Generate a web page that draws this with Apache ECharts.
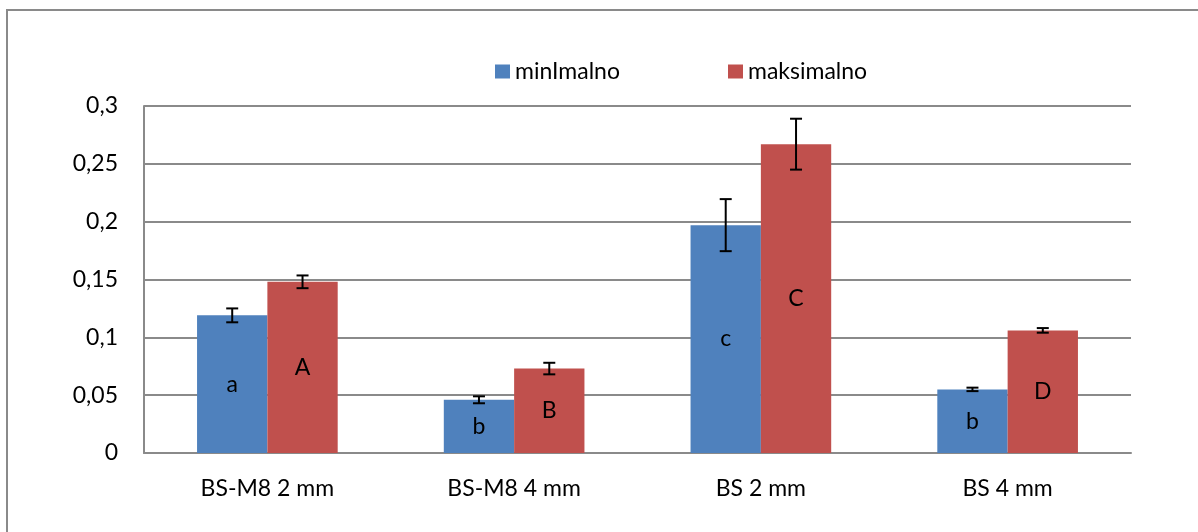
<!DOCTYPE html>
<html>
<head>
<meta charset="utf-8">
<script src="https://cdn.jsdelivr.net/npm/echarts@6/dist/echarts.min.js"></script>
<style>
  html, body { margin: 0; padding: 0; background: #fff; }
  #main { width: 1198px; height: 532px; }
</style>
</head>
<body>
<div id="main"></div>
<script>
// podaci
var categories = ['BS-M8 2 mm', 'BS-M8 4 mm', 'BS 2 mm', 'BS 4 mm']
var minValues = [0.119, 0.046, 0.197, 0.055]
var maxValues = [0.148, 0.073, 0.267, 0.106]
var minErr = [0.006, 0.003, 0.0225, 0.0015]
var maxErr = [0.0055, 0.005, 0.022, 0.002]
var minLetters = ['a', 'b', 'c', 'b']
var maxLetters = ['A', 'B', 'C', 'D']

var FONT = 'Lato'
var FS = 23
var CAT_GAP = 0.43

var chart = echarts.init(document.getElementById('main'))

function errData(values, errs) {
  return values.map(function (v, i) {
    return [i, v - errs[i], v + errs[i]]
  })
}

// offset: -1 za lijevi stupac, +1 za desni
function errRender(offset) {
  return function (params, api) {
    var i = api.value(0)
    var catW = api.size([1, 0])[0]
    var barW = catW * (1 - CAT_GAP) / 2
    var x = api.coord([i, 0])[0] + offset * barW / 2
    var lo = api.coord([i, api.value(1)])[1]
    var hi = api.coord([i, api.value(2)])[1]
    var cap = 6
    var style = { stroke: '#000', lineWidth: 2 }
    return {
      type: 'group',
      children: [
        { type: 'line', shape: { x1: x, y1: hi, x2: x, y2: lo }, style: style },
        { type: 'line', shape: { x1: x - cap, y1: hi, x2: x + cap, y2: hi }, style: style },
        { type: 'line', shape: { x1: x - cap, y1: lo, x2: x + cap, y2: lo }, style: style }
      ]
    }
  }
}

var labelStyle = {
  show: true,
  position: 'inside',
  color: '#000',
  fontFamily: FONT,
  fontSize: FS
}

var option = {
  animation: false,
  backgroundColor: '#fff',
  textStyle: { fontFamily: FONT },
  graphic: [
    {
      type: 'rect',
      shape: { x: 7, y: 10, width: 1210, height: 540 },
      style: { fill: 'none', stroke: '#8a8a8a', lineWidth: 2 },
      silent: true
    }
  ],
  legend: [
    {
      left: 490, top: 55,
      itemWidth: 15, itemHeight: 14, itemGap: 0,
      icon: 'rect',
      data: ['minImalno'],
      textStyle: { fontFamily: FONT, fontSize: FS, color: '#000' }
    },
    {
      left: 723, top: 55,
      itemWidth: 15, itemHeight: 14, itemGap: 0,
      icon: 'rect',
      data: ['maksimalno'],
      textStyle: { fontFamily: FONT, fontSize: FS, color: '#000' }
    }
  ],
  grid: { left: 144, right: 67, top: 106, bottom: 79, containLabel: false },
  xAxis: {
    type: 'category',
    data: categories,
    axisLine: { lineStyle: { color: '#8a8a8a', width: 2 } },
    axisTick: { show: false },
    axisLabel: { color: '#000', fontFamily: FONT, fontSize: FS, margin: 24 }
  },
  yAxis: {
    type: 'value',
    min: 0,
    max: 0.3,
    interval: 0.05,
    axisLine: { show: true, lineStyle: { color: '#8a8a8a', width: 2 } },
    axisTick: { show: false },
    splitLine: { lineStyle: { color: '#8a8a8a', width: 2 } },
    axisLabel: {
      color: '#000',
      fontFamily: FONT,
      fontSize: FS,
      margin: 26,
      formatter: function (v) {
        return String(Math.round(v * 100) / 100).replace('.', ',')
      }
    }
  },
  series: [
    {
      name: 'minImalno',
      type: 'bar',
      data: minValues,
      barGap: '0%',
      barCategoryGap: CAT_GAP * 100 + '%',
      itemStyle: { color: '#4F81BD' },
      label: Object.assign({}, labelStyle, {
        formatter: function (p) { return minLetters[p.dataIndex] }
      })
    },
    {
      name: 'maksimalno',
      type: 'bar',
      data: maxValues,
      barGap: '0%',
      barCategoryGap: CAT_GAP * 100 + '%',
      itemStyle: { color: '#C0504D' },
      label: Object.assign({}, labelStyle, {
        formatter: function (p) { return maxLetters[p.dataIndex] }
      })
    },
    {
      type: 'custom',
      renderItem: errRender(-1),
      data: errData(minValues, minErr),
      encode: { x: 0, y: [1, 2] },
      z: 10
    },
    {
      type: 'custom',
      renderItem: errRender(1),
      data: errData(maxValues, maxErr),
      encode: { x: 0, y: [1, 2] },
      z: 10
    }
  ]
}

chart.setOption(option)
</script>
</body>
</html>
